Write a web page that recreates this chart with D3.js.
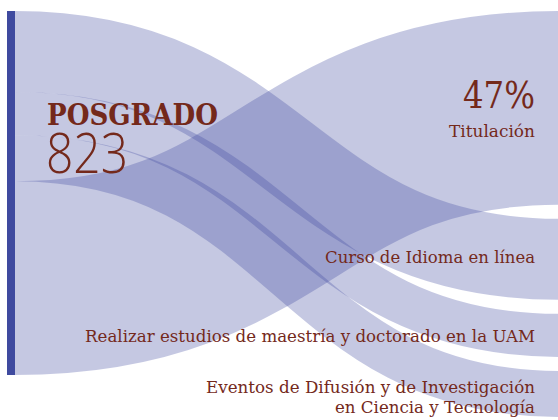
<!DOCTYPE html>
<html><head><meta charset="utf-8">
<script src="https://cdn.jsdelivr.net/npm/d3@7"></script>
<style>html,body{margin:0;padding:0;background:#fff;overflow:hidden}</style>
</head><body><svg id="c" width="558" height="420"></svg>
<script>
// ---- data ----
const sourceName = "POSGRADO";
const sourceTotal = 823;
const targets = ["Titulación", "Curso de Idioma en línea", "Realizar estudios de maestría y doctorado en la UAM", "Eventos de Difusión y de Investigación|en Ciencia y Tecnología"];
const values = [387, 162, 86, 92];
const targetPercent = ["47%", "", "", ""];
const sourceOrder = [1, 2, 3, 0]; // link order on the source side (top to bottom)

// ---- layout / style ----
const W = 558, H = 420;
const blue = "#3f4a9f", ink = "#74291b";
const nodeTop = 11, nodeX0 = 7, nodeX1 = 15, rightX = 560, pad = 14;
const total = d3.sum(values);
const k = d3.scaleLinear().domain([0, total]).range([0, 364]);
const labelX = 535;
const labelDy = [[0, 29], [3.5], [6.5], [-1, 19]];
const labelLen = [[72, 86], [210], [450], [329, 200]];

const svg = d3.select("#c");

// source stacking
const srcY = {};
let acc = nodeTop;
sourceOrder.forEach(i => { srcY[i] = acc; acc += k(values[i]); });
// target stacking
const tgtY = [];
acc = nodeTop;
values.forEach((v, i) => { tgtY[i] = acc; acc += k(v) + pad; });

const linkGen = d3.linkHorizontal().x(d => d[0]).y(d => d[1]);

svg.append("g").selectAll("path").data(values).join("path")
  .attr("d", (v, i) => linkGen({source: [nodeX1, srcY[i] + k(v) / 2], target: [rightX, tgtY[i] + k(v) / 2]}))
  .attr("fill", "none")
  .attr("stroke", blue)
  .attr("stroke-opacity", 0.3)
  .attr("stroke-width", v => k(v));

// source node bar
svg.append("rect")
  .attr("x", nodeX0).attr("y", nodeTop)
  .attr("width", nodeX1 - nodeX0).attr("height", k(total))
  .attr("fill", blue);

// source labels
svg.append("text")
  .attr("x", 47).attr("y", 125)
  .attr("font-family", "DejaVu Serif").attr("font-weight", "bold").attr("font-size", 29)
  .attr("fill", ink).attr("textLength", 171).attr("lengthAdjust", "spacingAndGlyphs")
  .text(sourceName);
svg.append("text")
  .attr("x", 46).attr("y", 173)
  .attr("font-family", "Open Sans, DejaVu Sans").attr("font-weight", 300).attr("font-size", 56)
  .attr("fill", ink).attr("textLength", 82).attr("lengthAdjust", "spacingAndGlyphs")
  .text(sourceTotal);

// target labels
targets.forEach((name, i) => {
  const cy = tgtY[i] + k(values[i]) / 2;
  const lines = name.split("|");
  if (targetPercent[i]) {
    svg.append("text")
      .attr("x", labelX).attr("y", cy + labelDy[i][0])
      .attr("text-anchor", "end")
      .attr("font-family", "DejaVu Serif").attr("font-size", 38).attr("font-weight", 300)
      .attr("fill", ink).attr("textLength", labelLen[i][0]).attr("lengthAdjust", "spacingAndGlyphs")
      .text(targetPercent[i]);
    svg.append("text")
      .attr("x", labelX).attr("y", cy + labelDy[i][1])
      .attr("text-anchor", "end")
      .attr("font-family", "DejaVu Serif").attr("font-size", 17)
      .attr("fill", ink).attr("textLength", labelLen[i][1]).attr("lengthAdjust", "spacingAndGlyphs")
      .text(lines[0]);
  } else {
    lines.forEach((ln, j) => {
      svg.append("text")
        .attr("x", labelX).attr("y", cy + labelDy[i][j])
        .attr("text-anchor", "end")
        .attr("font-family", "DejaVu Serif").attr("font-size", 17)
        .attr("fill", ink).attr("textLength", labelLen[i][j]).attr("lengthAdjust", "spacingAndGlyphs")
        .text(ln);
    });
  }
});
</script></body></html>
